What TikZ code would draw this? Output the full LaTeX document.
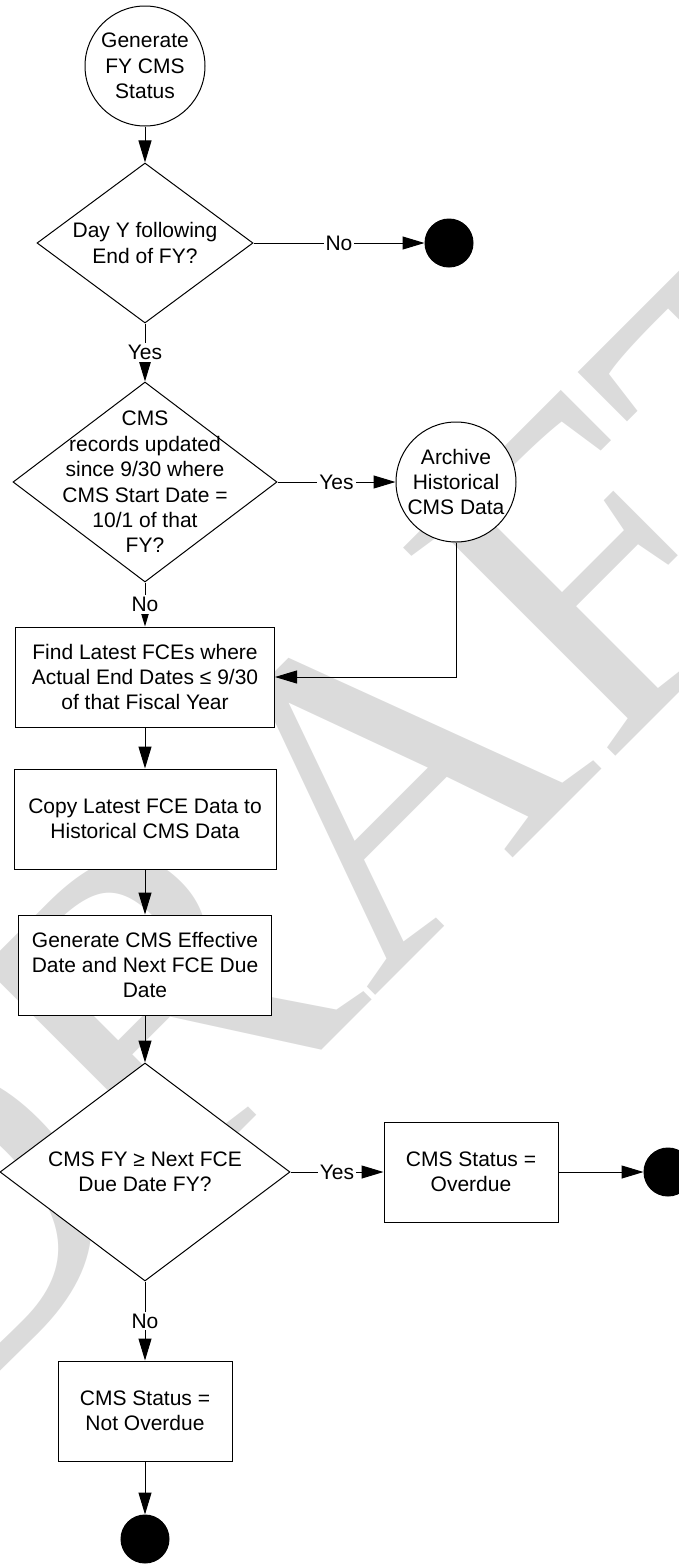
\documentclass[tikz,border=0pt]{standalone}
\usepackage{fontspec}
\setmainfont{Liberation Sans}
\newfontfamily\wmfont{Liberation Serif}
\usetikzlibrary{positioning, arrows.meta, shapes.geometric}
\tikzstyle{startstop} = [
circle,
draw,
fill=white,
inner sep=0pt,
minimum size=60pt,
align=center
]
\tikzstyle{stopdot} = [
circle,
draw,
fill=black,
inner sep=0pt,
minimum size=24pt
]
\tikzstyle{process} = [
rectangle,
draw,
fill=white,
minimum width=129.5pt,
minimum height=50pt,
align=center
]
\tikzstyle{decision} = [
diamond,
draw,
fill=white,
inner sep=0pt
]
\tikzstyle{dtext} = [align=center]
\tikzstyle{answer} = [fill=white, inner sep=1pt]
\tikzstyle{arrow}=[-{Triangle[length=11pt,width=6.5pt]}]

\begin{document}
\begin{tikzpicture}[node distance=72pt, line width=0.5pt,
  font=\fontsize{10.5pt}{12.7pt}\selectfont]
        \useasboundingbox (0,0) rectangle (339.5pt,-782pt);
        
        % watermark
        \node (draft) [rotate=45, text=black!14, inner sep=0pt,
        font=\wmfont\fontsize{227pt}{227pt}\selectfont]
        at (173.5pt,-406.5pt) {DRAFT};
        
        \node (start) [startstop] at (72.5pt,-33pt)
        {Generate\\FY CMS\\Status};
        
        \node (fy) [decision, minimum width=108pt, minimum height=80pt,
        below of=start, yshift=-16.5pt] {};
        \node (fytext) [dtext] at (fy) {Day Y following\\End of FY?};
        
        \node (stop1) [stopdot, right=85.5pt of fy] {};
        
        \node (cms) [decision, minimum width=132pt, minimum height=100pt,
        below of=fy, yshift=-47.5pt] {};
        \node (cmstext) [dtext] at (cms)
        {CMS\\records updated\\since 9/30 where\\CMS Start Date =\\10/1 of that\\FY?};
        
        \node (archive) [startstop, right=59pt of cms]
        {Archive\\Historical\\CMS Data};
        
        \node (find) [process, below of=cms, yshift=-25.5pt]
        {Find Latest FCEs where\\Actual End Dates ≤ 9/30\\of that Fiscal Year};
        
        \node (copy) [process, minimum width=131pt, below of=find, yshift=1pt]
        {Copy Latest FCE Data to\\Historical CMS Data};
        
        \node (gen) [process, minimum width=126.5pt, below of=copy, yshift=-1pt]
        {Generate CMS Effective\\Date and Next FCE Due\\Date};
        
        \node (due) [decision, minimum width=145pt, minimum height=109pt,
        below of=gen, yshift=-31.5pt] {};
        \node (duetext) [dtext] at (due) {CMS FY ≥ Next FCE\\Due Date FY?};
        
        \node (over) [process, minimum width=87pt, right=46.5pt of due]
        {CMS Status =\\Overdue};
        
        \node (stop2) [stopdot, right=42.5pt of over] {};
        
        \node (notover) [process, minimum width=87pt, below of=due, yshift=-47.5pt]
        {CMS Status =\\Not Overdue};
        
        \node (stop3) [stopdot, below of=notover, yshift=8pt] {};
        
        \draw [arrow] (start)--(fy);
        
        \draw [arrow] (fy)--node[answer]{No}(stop1);
        
        \draw [arrow] (fy)--node[answer]{Yes}(cms);
        
        \draw [arrow] (cms)--node[answer]{Yes}(archive);
        
        \draw [arrow] (cms)--node[answer]{No}(find);
        
        \draw [arrow] (archive.south) |- (find.east);
        
        \draw [arrow] (find)--(copy);
        
        \draw [arrow] (copy)--(gen);
        
        \draw [arrow] (gen)--(due);
        
        \draw [arrow] (due)--node[answer]{Yes}(over);
        
        \draw [arrow] (over)--(stop2);
        
        \draw [arrow] (due)--node[answer]{No}(notover);
        
        \draw [arrow] (notover)--(stop3);
        
        \end{tikzpicture}
\end{document}
